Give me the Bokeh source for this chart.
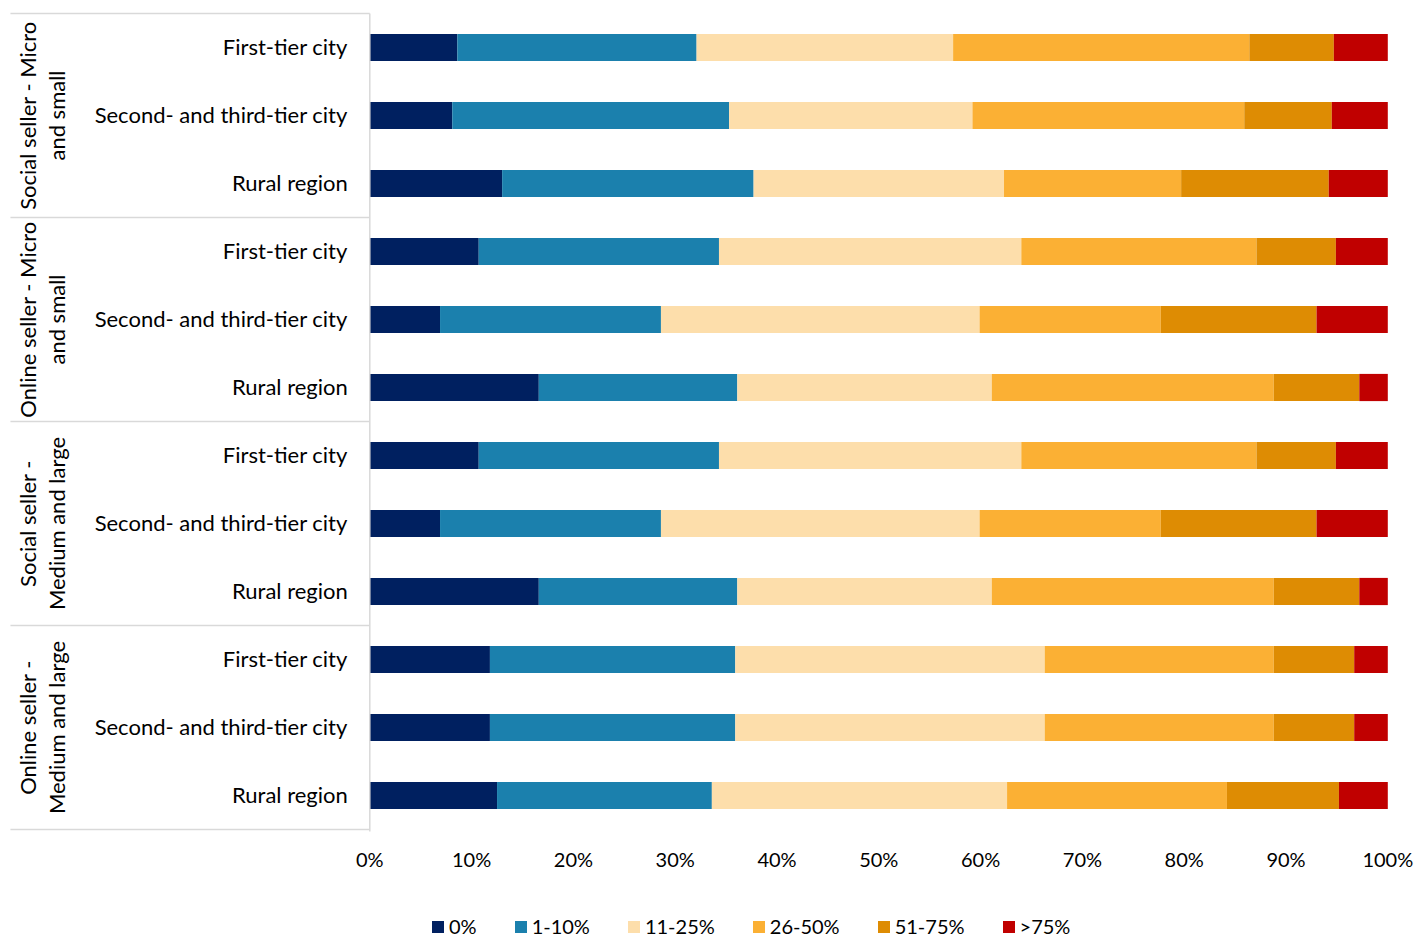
import math

from bokeh.plotting import figure
from bokeh.models import (ColumnDataSource, Range1d, FixedTicker, PrintfTickFormatter,
                          Legend, LegendItem)
from bokeh.core.properties import value
from bokeh.embed import file_html
from bokeh.resources import INLINE

# ---- data -------------------------------------------------------------
groups = ["Social seller - Micro\nand small",
          "Online seller - Micro\nand small",
          "Social seller -\nMedium and large",
          "Online seller -\nMedium and large"]
regions = ["First-tier city", "Second- and third-tier city", "Rural region"]
bands = ["0%", "1-10%", "11-25%", "26-50%", "51-75%", ">75%"]
ticks = [0, 10, 20, 30, 40, 50, 60, 70, 80, 90, 100]

# share of respondents (%) per band, one value per bar, top to bottom
share_0 = [8.6, 8.1, 13.0, 10.7, 6.9, 16.6, 10.7, 6.9, 16.6, 11.8, 11.8, 12.5]
share_1_10 = [23.5, 27.2, 24.7, 23.6, 21.7, 19.5, 23.6, 21.7, 19.5, 24.1, 24.1, 21.1]
share_11_25 = [25.2, 23.9, 24.6, 29.7, 31.3, 25.0, 29.7, 31.3, 25.0, 30.4, 30.4, 29.0]
share_26_50 = [29.1, 26.7, 17.4, 23.1, 17.8, 27.7, 23.1, 17.8, 27.7, 22.5, 22.5, 21.6]
share_51_75 = [8.3, 8.6, 14.5, 7.8, 15.3, 8.4, 7.8, 15.3, 8.4, 7.9, 7.9, 11.0]
share_gt75 = [5.3, 5.5, 5.8, 5.1, 7.0, 2.8, 5.1, 7.0, 2.8, 3.3, 3.3, 4.8]

colors = ["#002060", "#1B80AD", "#FDDEAB", "#FBB034", "#DE8C03", "#C00000"]

FONT = "Lato"
TEXT_COLOR = "#000000"
RULE_COLOR = "#D9D9D9"

# ---- geometry helpers ---------------------------------------------------
n_bars = len(regions) * len(groups)
row_labels = [r for _ in groups for r in regions]
row_pos = [i + 0.5 for i in range(n_bars)]

cols = ["s0", "s1", "s2", "s3", "s4", "s5"]
src = ColumnDataSource(dict(y=row_pos, region=row_labels,
                            s0=share_0, s1=share_1_10, s2=share_11_25,
                            s3=share_26_50, s4=share_51_75, s5=share_gt75))

PX_PER_PCT = 10.18
ZERO_PX = 369.3
FRAME_W = 1417
FRAME_H = 939
ROW_PX = 68
TOP_PX = 13
AXIS_PX = 835          # where the percentage scale sits

x_start = -ZERO_PX / PX_PER_PCT
x_end = x_start + FRAME_W / PX_PER_PCT
y_top = -TOP_PX / ROW_PX
y_bottom = (FRAME_H - TOP_PX) / ROW_PX

p = figure(frame_width=FRAME_W, frame_height=FRAME_H,
           x_range=Range1d(x_start, x_end),
           y_range=Range1d(y_bottom, y_top),
           y_axis_location=None,
           output_backend="svg", toolbar_location=None,
           min_border_left=0, min_border_right=0,
           min_border_top=0, min_border_bottom=0,
           background_fill_color="white", border_fill_color="white")
p.outline_line_color = None
p.grid.visible = False

# ---- stacked bars -------------------------------------------------------
bars = p.hbar_stack(cols, y="y", height=0.4, color=colors, line_color=None, source=src)

# ---- category table on the left ----------------------------------------
n_groups = len(groups)
sep_y = [i * len(regions) for i in range(n_groups + 1)]
p.segment(x0=[-35.3] * len(sep_y), y0=sep_y, x1=[0] * len(sep_y), y1=sep_y,
          line_color=RULE_COLOR, line_width=1.5)
p.segment(x0=[0], y0=[0], x1=[0], y1=[n_bars + 0.03],
          line_color=RULE_COLOR, line_width=1.5)

p.text(x=0, y="y", text="region", source=src, x_offset=-22, y_offset=-1,
       text_align="right", text_baseline="middle",
       text_font=value(FONT), text_font_size="22px", text_color=TEXT_COLOR)

grp_src = ColumnDataSource(dict(
    y=[i * len(regions) + len(regions) / 2 for i in range(n_groups)],
    label=groups))
p.text(x=0, y="y", text="label", source=grp_src, x_offset=-328,
       angle=math.pi / 2, text_align="center", text_baseline="middle",
       text_line_height=1.08,
       text_font=value(FONT), text_font_size="22px", text_color=TEXT_COLOR)

# ---- x axis (drawn just under the last row) --------------------------------
ax = p.xaxis[0]
ax.fixed_location = (AXIS_PX - TOP_PX) / ROW_PX
ax.ticker = FixedTicker(ticks=ticks)
ax.formatter = PrintfTickFormatter(format="%d%%")
ax.axis_line_color = None
ax.major_tick_line_color = None
ax.minor_tick_line_color = None
ax.major_tick_out = 0
ax.major_tick_in = 0
ax.major_label_standoff = 11
ax.major_label_text_font = FONT
ax.major_label_text_font_size = "20px"
ax.major_label_text_color = TEXT_COLOR

# ---- legend ---------------------------------------------------------------
# bar swatches are inset by 10% of the glyph box, so a 15px box gives 12px squares
legend = Legend(items=[LegendItem(label=b, renderers=[r]) for b, r in zip(bands, bars)],
                orientation="horizontal", location=(430, 1),
                glyph_width=15, glyph_height=15, label_standoff=4, spacing=36,
                padding=0, margin=0, border_line_color=None,
                background_fill_alpha=0,
                label_text_font=FONT, label_text_font_size="20px",
                label_text_color=TEXT_COLOR)
p.add_layout(legend, "center")

open("out.html", "w").write(file_html(p, INLINE))
